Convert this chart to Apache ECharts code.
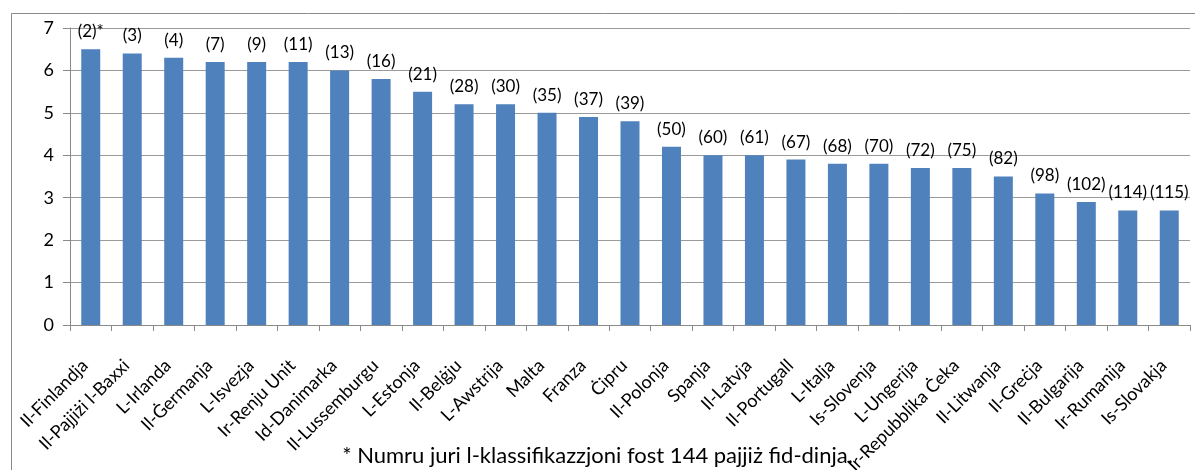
<!DOCTYPE html>
<html>
<head>
<meta charset="utf-8">
<script src="https://cdn.jsdelivr.net/npm/echarts@6/dist/echarts.min.js"></script>
<style>
html,body{margin:0;padding:0;background:#fff;}
#chart{width:1195px;height:470px;}
</style>
</head>
<body>
<div id="chart"></div>
<script>
const categories = ["Il-Finlandja","Il-Pajjiżi l-Baxxi","L-Irlanda","Il-Ġermanja","L-Isvezja","Ir-Renju Unit","Id-Danimarka","Il-Lussemburgu","L-Estonja","Il-Belġju","L-Awstrija","Malta","Franza","Ċipru","Il-Polonja","Spanja","Il-Latvja","Il-Portugall","L-Italja","Is-Slovenja","L-Ungerija","Ir-Repubblika Ċeka","Il-Litwanja","Il-Greċja","Il-Bulgarija","Ir-Rumanija","Is-Slovakja"];
const scores = [6.5,6.4,6.3,6.2,6.2,6.2,6.0,5.8,5.5,5.2,5.2,5.0,4.9,4.8,4.2,4.0,4.0,3.9,3.8,3.8,3.7,3.7,3.5,3.1,2.9,2.7,2.7];
const ranks = ["(2)*","(3)","(4)","(7)","(9)","(11)","(13)","(16)","(21)","(28)","(30)","(35)","(37)","(39)","(50)","(60)","(61)","(67)","(68)","(70)","(72)","(75)","(82)","(98)","(102)","(114)","(115)"];
const yTicks = [0,1,2,3,4,5,6,7];
const footnote = "* Numru juri l-klassifikazzjoni fost 144 pajjiż fid-dinja.";

const FONT = "Lato, 'Open Sans', sans-serif";
const chart = echarts.init(document.getElementById('chart'), null, {renderer:'canvas'});
chart.setOption({
  animation:false,
  backgroundColor:'#fff',
  graphic:[
    {type:'rect', shape:{x:11.5,y:13.5,width:1300,height:600}, style:{fill:'none',stroke:'#8a8a8a',lineWidth:1}, silent:true, z:-1},
    {type:'text', left:'center', top:445, style:{text:footnote, font:'22px '+FONT, fill:'#000'}}
  ],
  grid:{left:70,right:5,top:28,bottom:145,containLabel:false,outerBoundsMode:'none'},
  xAxis:{
    type:'category',
    data:categories,
    axisLine:{lineStyle:{color:'#8a8a8a',width:1}},
    axisTick:{show:true,length:6,lineStyle:{color:'#8a8a8a'}},
    axisLabel:{interval:0,rotate:45,margin:32,padding:[0,8,0,0],color:'#000',fontSize:18,fontFamily:FONT,hideOverlap:false}
  },
  yAxis:{
    type:'value',min:0,max:7,interval:1,
    axisLine:{show:true,lineStyle:{color:'#8a8a8a',width:1}},
    axisTick:{show:true,length:7,inside:false,lineStyle:{color:'#8a8a8a'}},
    splitLine:{lineStyle:{color:'#9a9a9a',width:1}},
    axisLabel:{margin:16,color:'#000',fontSize:18,fontFamily:FONT,
      formatter:function(v){return yTicks.indexOf(v)>=0?String(v):'';}}
  },
  series:[{
    type:'bar',
    data:scores,
    barWidth:19,
    itemStyle:{color:'#4f81bd'},
    label:{show:true,position:'top',distance:9,color:'#000',fontSize:17,fontFamily:FONT,
      formatter:function(p){return ranks[p.dataIndex];}}
  }]
});
</script>
</body>
</html>
